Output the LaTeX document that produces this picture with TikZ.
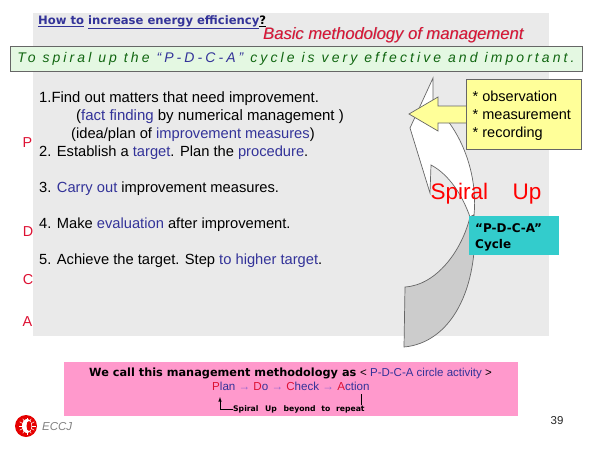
\documentclass[tikz,border=0pt]{standalone}
\usepackage{fontspec}
\setmainfont{Liberation Sans}
\newfontfamily\widefont{DejaVu Sans}
\newfontfamily\spacedfont[LetterSpace=22,UprightFont=*-Italic]{Liberation Sans}
\usepackage{xcolor}
\definecolor{panelgray}{HTML}{EAEAEA}
\definecolor{crescentgray}{HTML}{CCCCCC}
\definecolor{linegray}{HTML}{666666}
\definecolor{darkblue}{HTML}{333399}
\definecolor{darkgreen}{HTML}{116611}
\definecolor{bannergreen}{HTML}{E4F8E2}
\definecolor{noteyellow}{HTML}{FFFF99}
\definecolor{cycleteal}{HTML}{33CCCC}
\definecolor{stripepink}{HTML}{FF99CC}
\definecolor{letterred}{HTML}{DD1133}
\definecolor{arrowviolet}{HTML}{9966CC}
\newcommand{\bl}[1]{\textcolor{darkblue}{#1}}
\tikzstyle{bodytext} =[
    anchor=base west,
    inner sep=0pt,
    font=\fontsize{14.7}{17}\selectfont
    ]
\tikzstyle{notetext} =[
    anchor=base west,
    inner sep=0pt,
    font=\fontsize{14.5}{17}\selectfont
    ]
\tikzstyle{pdcaletter} =[
    inner sep=0pt,
    text=letterred,
    font=\fontsize{14.4}{17}\selectfont
    ]
\tikzstyle{widebold} =[
    anchor=base west,
    inner sep=0pt,
    font=\widefont\bfseries\fontsize{11.6}{13}\selectfont
    ]
\tikzstyle{spiralshape} = [
    draw=linegray,
    line width=0.7pt
    ]
\begin{document}
\begin{tikzpicture}[x=1pt,y=-1pt]
\useasboundingbox (0,0) rectangle (600,450);
\fill[panelgray] (33,13) rectangle (549,336);

% spiral
\draw[spiralshape, fill=white] (433,78) -- (410,128) -- (430,193) -- (431,165)
    .. controls (450,175) and (463,197) .. (470,217) -- (474,215)
    .. controls (478,175) and (462,130) .. (433,105) -- cycle;
\draw[spiralshape, fill=crescentgray] (404,347) -- (405,287)
    .. controls (437,285) and (462,250) .. (470,217) -- (474,215)
    .. controls (480,290) and (450,343) .. (404,347) -- cycle;

% headline
\node[widebold, text=darkblue] (howto) at (38,24.5)
    {\underline{How to} \underline{increase energy efficiency}\textcolor{black}{\underline{?}}};
\node[inner sep=0pt, anchor=base west, text=gray!70, font=\itshape\fontsize{16.6}{20}\selectfont] (methodshadow) at (263.6,39.6)
    {Basic methodology of management};
\node[inner sep=0pt, anchor=base west, text=letterred, font=\itshape\fontsize{16.6}{20}\selectfont] (method) at (263,39)
    {Basic methodology of management};

\node[draw=linegray, fill=bannergreen, line width=0.8pt, minimum width=572pt, minimum height=25pt, inner sep=0pt] (banner) at (296,58.5)
    {\spacedfont\fontsize{14}{15}\selectfont\textcolor{darkgreen}{To spiral up the} \textcolor{darkblue}{“P-D-C-A”} \textcolor{darkgreen}{cycle is very effective and important.}};

% steps
\node[bodytext, font=\fontsize{14.85}{17}\selectfont] (stepa) at (39,102) {1.Find out matters that need improvement.};
\node[bodytext, font=\fontsize{15}{17}\selectfont] (stepb) at (76,120) {(\bl{fact finding} by numerical management )};
\node[bodytext] (stepc) at (71,138) {(idea/plan of \bl{improvement measures})};
\node[bodytext] (stepd) at (39,156) {2. Establish a \bl{target}. Plan the \bl{procedure}.};
\node[bodytext] (stepe) at (39,192) {3. \bl{Carry out} improvement measures.};
\node[bodytext] (stepf) at (39,228) {4. Make \bl{evaluation} after improvement.};
\node[bodytext] (stepg) at (39,264) {5. Achieve the target. Step \bl{to higher target}.};

\node[pdcaletter] (letterp) at (27.5,143) {P};
\node[pdcaletter] (letterd) at (28,232) {D};
\node[pdcaletter] (letterc) at (28,280) {C};
\node[pdcaletter] (lettera) at (27.5,322) {A};

% yellow note
\draw[draw=linegray, fill=noteyellow, line width=0.7pt] (409,114) -- (438,97) -- (438,106) -- (468,106)
    -- (468,123) -- (438,123) -- (438,131) -- cycle;
\node[draw=linegray, fill=noteyellow, line width=0.7pt, minimum width=115pt, minimum height=70pt, inner sep=0pt] (note) at (523.5,114) {};
\node[notetext] (notea) at (472.5,101) {* observation};
\node[notetext] (noteb) at (472.5,119) {* measurement};
\node[notetext] (notec) at (472.5,137) {* recording};

\node[inner sep=0pt, anchor=base west, text=red, font=\fontsize{22.5}{26}\selectfont] (spiralup) at (430.5,199) {Spiral\hspace{24.5pt}Up};

\fill[cycleteal] (469,216) rectangle (559,255);
\node[widebold, font=\widefont\bfseries\fontsize{12}{14}\selectfont, text=black] (cyclea) at (475,232) {“P-D-C-A”};
\node[widebold, font=\widefont\bfseries\fontsize{12}{14}\selectfont, text=black] (cycleb) at (475,248) {Cycle};

% pink stripe
\fill[stripepink] (64,362) rectangle (518,416);
\node[widebold, font=\widefont\bfseries\fontsize{11.3}{13}\selectfont] (wecall) at (89,376) {We call this management methodology as};
\node[inner sep=0pt, anchor=base west, font=\fontsize{11.5}{13}\selectfont] (activity) at (360,376) {< \bl{P-D-C-A circle activity} >};
\node[inner sep=0pt, anchor=base west, font=\fontsize{11.6}{13}\selectfont, text=darkblue] (plando) at (212,390)
    {\textcolor{letterred}{P}lan \textcolor{arrowviolet}{→} \textcolor{letterred}{D}o \textcolor{arrowviolet}{→} \textcolor{letterred}{C}heck \textcolor{arrowviolet}{→} \textcolor{letterred}{A}ction};
\node[inner sep=0pt, anchor=base west, font=\widefont\bfseries\fontsize{7.7}{9}\selectfont, text=black] (repeatnote) at (233,411) {Spiral\hspace{4pt} Up\hspace{4pt} beyond\hspace{3pt} to\hspace{3pt} repeat};
\coordinate (plantail) at (220,397);
\coordinate (actionfoot) at (361,394);
\coordinate (actionend) at (361,405);
\draw[-latex, line width=0.6pt] (repeatnote.west) -| (plantail);
\draw[line width=0.6pt] (actionfoot) -- (actionend);

% logo
\fill[red!90!black] (26,426) circle (11pt);
\fill[white] (27,426) ellipse (5pt and 7pt);
\foreach \ang in {0,30,...,330}
    \draw[white, line width=0.5pt] (27,426) ++(\ang:4pt) -- ++(\ang:4.5pt);
\fill[red!90!black] (29,426) ellipse (2.5pt and 5pt);
\node[inner sep=0pt, anchor=base west, text=gray, font=\itshape\fontsize{11.5}{13}\selectfont] (eccj) at (42,430) {ECCJ};

\node[inner sep=0pt, anchor=base west, font=\fontsize{11.5}{13}\selectfont, text=black!85] (pageno) at (550.5,424) {39};
\end{tikzpicture}
\end{document}
